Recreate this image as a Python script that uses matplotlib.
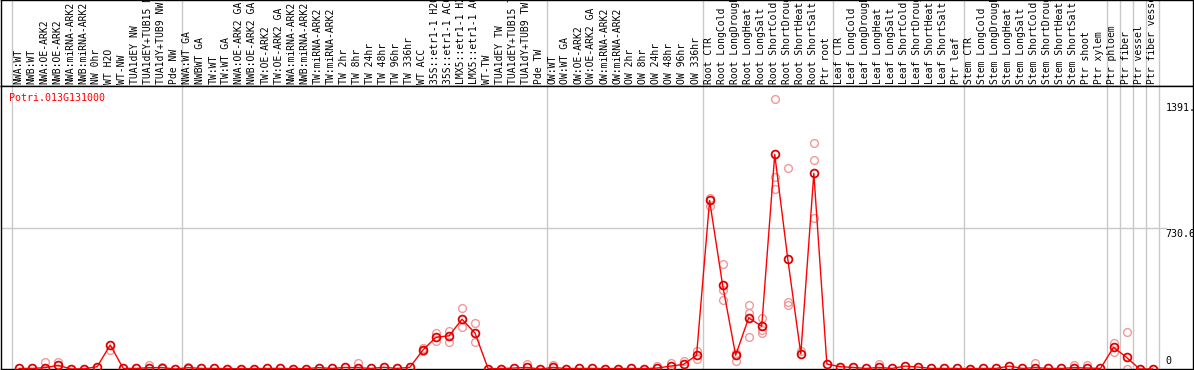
import numpy as np
import matplotlib
matplotlib.use("Agg")
import matplotlib.pyplot as plt

# sample labels (88 samples)
samples = [
    "NWA:WT", "NWB:WT", "NWA:OE-ARK2", "NWB:OE-ARK2", "NWA:miRNA-ARK2", "NWB:miRNA-ARK2",
    "NW 0hr", "WT H2O", "WT-NW", "TUA1dEY NW", "TUA1dEY+TUB15 NW", "TUA1dY+TUB9 NW", "Pde NW",
    "NWA:WT GA", "NWBWT GA", "TW:WT", "TW:WT GA", "NWA:OE-ARK2 GA", "NWB:OE-ARK2 GA",
    "TW:OE-ARK2", "TW:OE-ARK2 GA", "NWA:miRNA-ARK2", "NWB:miRNA-ARK2", "TW:miRNA-ARK2",
    "TW:miRNA-ARK2", "TW 2hr", "TW 8hr", "TW 24hr", "TW 48hr", "TW 96hr", "TW 336hr", "WT ACC",
    "35S::etr1-1 H2O", "35S::etr1-1 ACC", "LMX5::etr1-1 H2O", "LMX5::etr1-1 ACC", "WT-TW",
    "TUA1dEY TW", "TUA1dEY+TUB15 TW", "TUA1dY+TUB9 TW", "Pde TW",
    "OW:WT", "OW:WT GA", "OW:OE-ARK2", "OW:OE-ARK2 GA", "OW:miRNA-ARK2", "OW:miRNA-ARK2",
    "OW 2hr", "OW 8hr", "OW 24hr", "OW 48hr", "OW 96hr", "OW 336hr",
    "Root CTR", "Root LongCold", "Root LongDrought", "Root LongHeat", "Root LongSalt",
    "Root ShortCold", "Root ShortDrought", "Root ShortHeat", "Root ShortSalt", "Ptr root",
    "Leaf CTR", "Leaf LongCold", "Leaf LongDrought", "Leaf LongHeat", "Leaf LongSalt",
    "Leaf ShortCold", "Leaf ShortDrought", "Leaf ShortHeat", "Leaf ShortSalt", "Ptr leaf",
    "Stem CTR", "Stem LongCold", "Stem LongDrought", "Stem LongHeat", "Stem LongSalt",
    "Stem ShortCold", "Stem ShortDrought", "Stem ShortHeat", "Stem ShortSalt", "Ptr shoot",
    "Ptr xylem", "Ptr phloem", "Ptr fiber", "Ptr vessel", "Ptr fiber vessel",
]

# mean expression per sample
means = [
    3, 3, 7, 19, 0, 1, 12, 124, 3, 3, 7, 7, 0,
    7, 3, 3, 2, 2, 2, 3, 3, 2, 2, 7, 3, 8, 7, 3, 9, 3, 9, 98,
    164, 171, 257, 185, 2, 2, 5, 8, 0,
    8, 2, 3, 3, 2, 2, 3, 2, 5, 15, 24, 71,
    870, 433, 71, 264, 221, 1108, 568, 78, 1010, 26,
    12, 8, 3, 8, 3, 15, 10, 3, 3, 3,
    2, 3, 3, 15, 3, 7, 3, 3, 7, 5,
    3, 112, 60, 0, 0,
]

# replicate values that stand apart from the mean
replicates = {
    2: [38], 3: [35], 7: [98], 10: [19], 11: [12], 13: [12], 26: [33],
    31: [110, 95], 32: [188, 142], 33: [198, 141], 34: [316, 219], 35: [240, 140],
    39: [26], 41: [19], 49: [17], 50: [29], 51: [40], 52: [95, 50],
    53: [884, 844], 54: [544, 406, 357], 55: [81, 43], 56: [330, 288, 164],
    57: [261, 202, 188], 58: [1391.6, 993, 927], 59: [1040, 344, 330], 60: [95],
    61: [1166, 1077, 782], 66: [26], 78: [29], 81: [22], 82: [19],
    84: [136, 89], 85: [193, 0],
}

# group separators (between sample indices)
separators = [-0.5, 12.5, 40.5, 52.5, 62.5, 72.5, 83.5, 84.5, 85.5, 86.5, 87.5]

gene = "Potri.013G131000"
ymax = 1391.6
ytop = ymax * 1.05

W, H = 1194, 370
fig = plt.figure(figsize=(W / 100, H / 100), dpi=100)

x = np.arange(len(samples))
x0, step = 19, 13.03
xlim = ((1 - x0) / step, (1193 - x0) / step)

# header with sample names
hax = fig.add_axes([1 / W, (H - 86) / H, 1192 / W, 86 / H])
hax.set_xlim(xlim)
hax.set_ylim(0, 1)
hax.set_xticks([])
hax.set_yticks([])
for s in hax.spines.values():
    s.set_color("black")
    s.set_linewidth(1)
for sx in separators:
    hax.axvline(sx, color="#c8c8c8", lw=1)
for xi, name in zip(x, samples):
    hax.text(xi - 0.08, 2 / 86, name, rotation=90, ha="center", va="bottom",
             fontsize=7.0, family="DejaVu Sans Mono", color="black", clip_on=True)

# main plot
ax = fig.add_axes([1 / W, 1 / H, 1192 / W, 283 / H])
ax.set_xlim(xlim)
ax.set_ylim(0, ytop)
ax.set_xticks([])
ax.set_yticks([])
for s in ax.spines.values():
    s.set_color("black")
    s.set_linewidth(1)
for sx in separators:
    ax.axvline(sx, color="#c8c8c8", lw=1, zorder=1)
ax.plot([xlim[0], 88.0], [ytop / 2, ytop / 2], color="#c8c8c8", lw=1, zorder=1)

for i, vals in replicates.items():
    ax.plot([i] * len(vals), vals, "o", ms=5.6, mfc="none", mec="#ee9a9a", mew=1.0,
            zorder=2, clip_on=False)
ax.plot(x, means, "-", color="#ff0000", lw=1.0, zorder=3)
ax.plot(x, means, "o", ms=5.6, mfc="none", mec="#e00000", mew=1.3, zorder=4, clip_on=False)

ax.text(-0.77, ytop - 60, gene, color="red", fontsize=7.2, family="DejaVu Sans Mono",
        ha="left", va="center")
ax.text(88.0, ymax - 20, "%.1f" % ymax, fontsize=7.2, family="DejaVu Sans Mono",
        ha="left", va="top", clip_on=True)
ax.text(88.0, ytop / 2 - 10, "%.1f" % (ytop / 2), fontsize=7.2, family="DejaVu Sans Mono",
        ha="left", va="top", clip_on=True)
ax.text(88.0, 15, "0", fontsize=7.2, family="DejaVu Sans Mono", ha="left", va="bottom")

fig.savefig("out.png", dpi=100)
